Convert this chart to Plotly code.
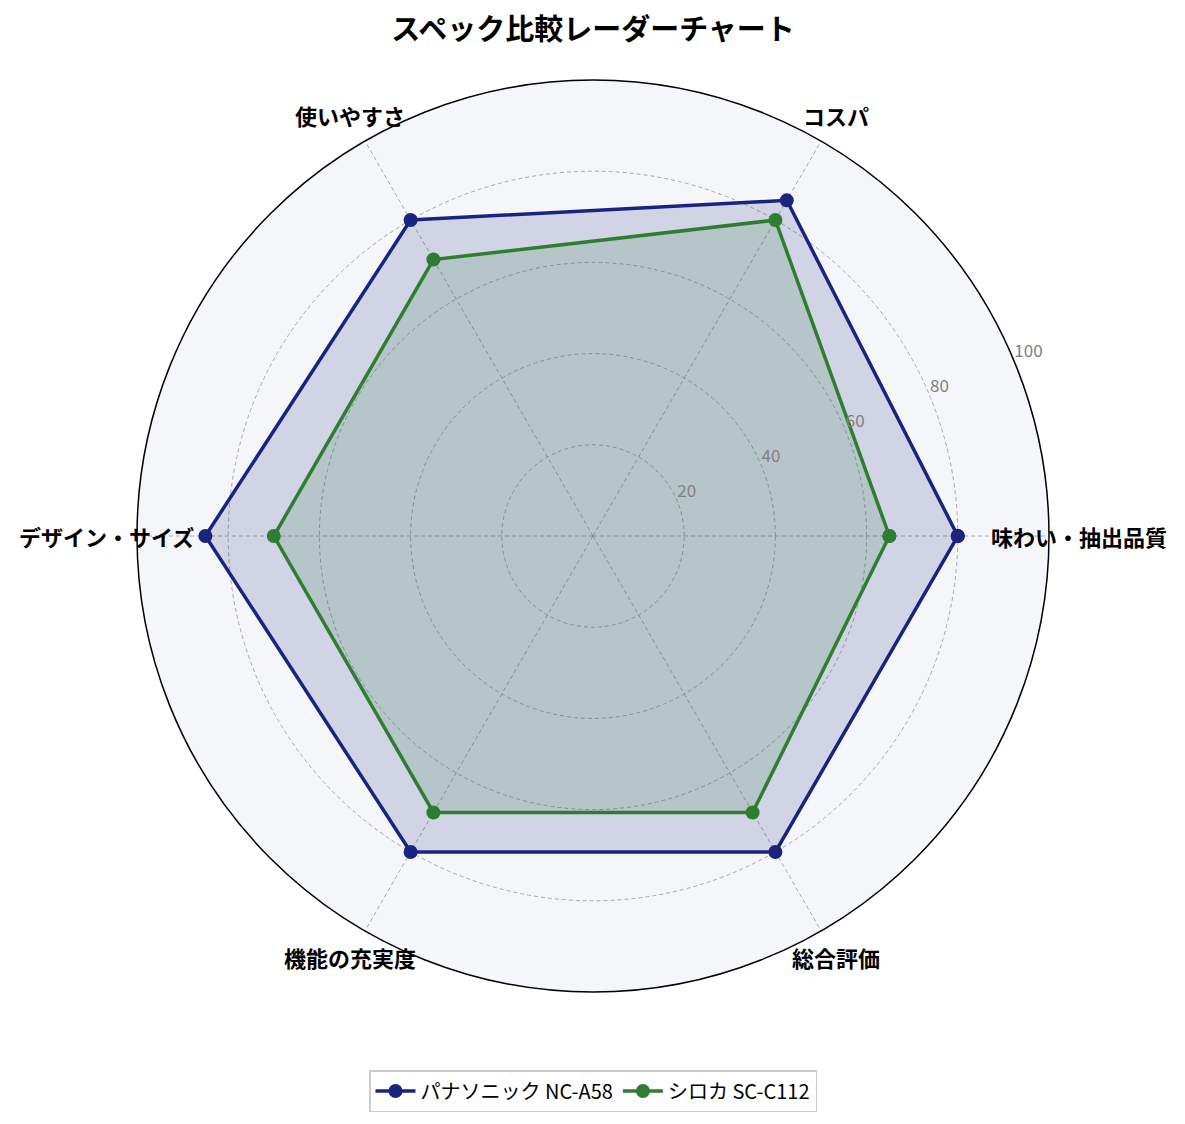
import math
import plotly.graph_objects as go

# Radar chart comparing two coffee makers

categories = ["味わい・抽出品質", "コスパ", "使いやすさ", "デザイン・サイズ", "機能の充実度", "総合評価"]
panasonic = [80, 85, 80, 85, 80, 80]
siroca = [65, 80, 70, 70, 70, 70]
radial_ticks = [20, 40, 60, 80, 100]

# one spoke per category, counterclockwise from the right
angles = [i * 360 / len(categories) for i in range(len(categories))]

# the page puts the figure 8px in from the top-left corner
W, H = 1177, 1116
cx, cy, rad = 585, 528, 456
label_r = 1.066  # category labels sit a bit outside the outer ring

fig = go.Figure()

series = [
    ("パナソニック NC-A58", panasonic, "#1a237e", "rgba(26,35,126,0.16)"),
    ("シロカ SC-C112", siroca, "#2e7d32", "rgba(46,125,50,0.16)"),
]
# filled areas first, without legend entries
for name, vals, color, fill in series:
    fig.add_trace(go.Scatterpolar(
        r=vals + vals[:1],
        theta=angles + angles[:1],
        mode="none",
        fill="toself",
        fillcolor=fill,
        showlegend=False,
        hoverinfo="skip",
    ))
for name, vals, color, fill in series:
    fig.add_trace(go.Scatterpolar(
        r=vals + vals[:1],
        theta=angles + angles[:1],
        mode="lines+markers",
        name=name,
        line=dict(color=color, width=3.5),
        marker=dict(size=14, color=color),
    ))

# radial tick labels along the 22.5 degree line
fig.add_trace(go.Scatterpolar(
    r=radial_ticks,
    theta=[22.5] * len(radial_ticks),
    mode="text",
    text=[str(t) for t in radial_ticks],
    textposition="top right",
    textfont=dict(size=17, color="#808080"),
    cliponaxis=False,
    showlegend=False,
    hoverinfo="skip",
))

# category labels
for cat, a in zip(categories, angles):
    fig.add_annotation(
        text=f"<b>{cat}</b>",
        x=(cx + label_r * rad * math.cos(math.radians(a))) / W,
        y=1 - (cy - label_r * rad * math.sin(math.radians(a))) / H,
        xref="paper", yref="paper",
        xanchor="center", yanchor="middle",
        showarrow=False,
        font=dict(size=22, color="black"),
    )

fig.update_layout(
    width=W,
    height=H,
    paper_bgcolor="white",
    font=dict(family="Noto Sans CJK JP, sans-serif", color="black"),
    title=dict(text="<b>スペック比較レーダーチャート</b>", x=cx / W, xanchor="center",
               y=1 - 22 / H, yanchor="middle", font=dict(size=29)),
    margin=dict(l=0, r=0, t=0, b=0),
    polar=dict(
        domain=dict(x=[(cx - rad) / W, (cx + rad) / W], y=[1 - (cy + rad) / H, 1 - (cy - rad) / H]),
        bgcolor="#f5f6fa",
        angularaxis=dict(
            type="linear",
            direction="counterclockwise",
            rotation=0,
            tickvals=angles,
            showticklabels=False,
            showline=True,
            linecolor="black",
            linewidth=1.5,
            gridcolor="#a8a8a8",
            griddash="4px,3px",
            gridwidth=1,
            ticks="",
        ),
        radialaxis=dict(
            range=[0, 100],
            tickvals=radial_ticks,
            showticklabels=False,
            showline=False,
            gridcolor="#a8a8a8",
            griddash="4px,3px",
            gridwidth=1,
            ticks="",
        ),
    ),
    legend=dict(
        orientation="h",
        x=cx / W, xanchor="center",
        y=1 - 1083 / H, yanchor="middle",
        bordercolor="#cccccc",
        borderwidth=1.5,
        font=dict(size=20),
        itemwidth=40,
    ),
)

fig.write_html("out.html")
